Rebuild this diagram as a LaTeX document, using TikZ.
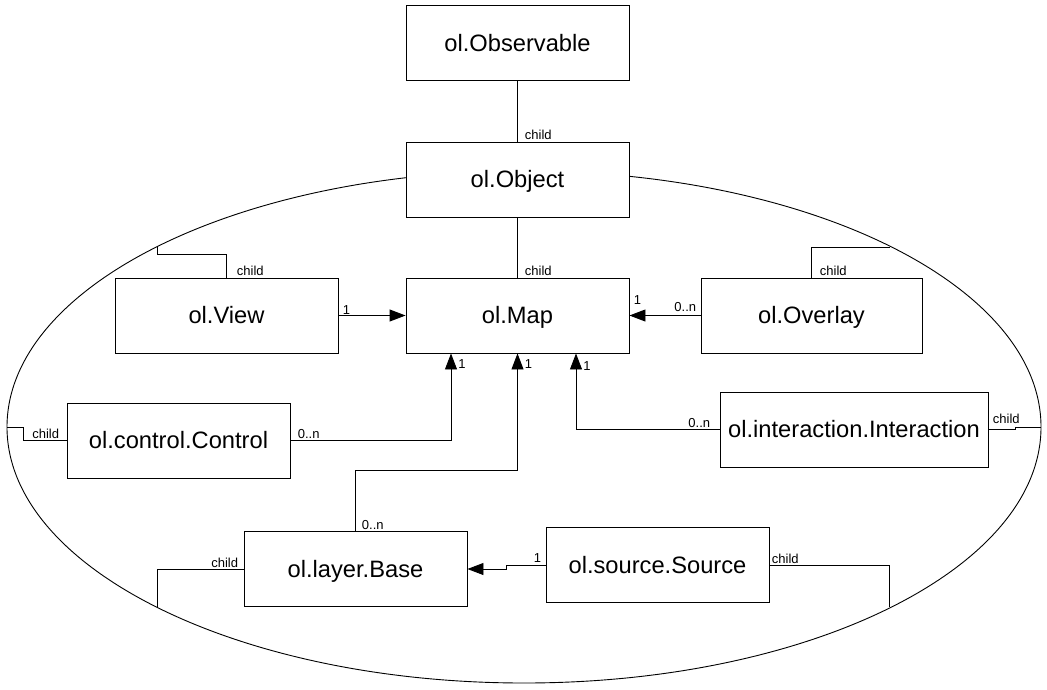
\documentclass[tikz,border=0pt]{standalone}
\usepackage{fontspec}
\setmainfont{Liberation Sans}
\usetikzlibrary{arrows.meta}
\begin{document}
\begin{tikzpicture}[x=1pt,y=-1pt,line width=0.9pt,
  cls/.style={draw, fill=white, minimum width=223pt, minimum height=75pt, inner sep=0pt, text height=17pt, text depth=0.6pt, font=\fontsize{23.7}{28}\selectfont},
  lbl/.style={inner sep=1pt, font=\fontsize{13}{15}\selectfont},
  assoc/.style={-{Triangle[length=16pt,width=12pt]}}]
  \useasboundingbox (0,0) rectangle (1047,689);

  \draw (524,427) ellipse [x radius=517pt, y radius=256pt];
  \coordinate (e1) at (157,247);
  \coordinate (e2) at (890,247);
  \coordinate (e3) at (7,427);
  \coordinate (e4) at (1041,427);
  \coordinate (e5) at (157,607);
  \coordinate (e6) at (889,607);

  \node[cls] (obs) at (517.5,43) {ol.Observable};
  \node[cls] (obj) at (517.5,179.5) {ol.Object};
  \node[cls] (map) at (517.5,315.5) {ol.Map};
  \node[cls] (view) at (226.5,315.5) {ol.View};
  \node[cls, minimum width=221pt] (overlay) at (811.5,315.5) {ol.Overlay};
  \node[cls] (control) at (178.5,440.5) {ol.control.Control};
  \node[cls, minimum width=268pt] (interaction) at (854,429.5) {ol.interaction.Interaction};
  \node[cls] (base) at (355.5,569) {ol.layer.Base};
  \node[cls] (source) at (657.5,565) {ol.source.Source};

  \draw (obs) -- (obj) node[lbl, pos=1, anchor=south west, xshift=6pt] {child};
  \draw (obj) -- (map) node[lbl, pos=1, anchor=south west, xshift=6pt] {child};

  \draw[assoc] (view) -- (map) node[lbl, pos=0, anchor=south west, xshift=3pt] {1};
  \draw[assoc] (overlay) -- (map) node[lbl, pos=0, anchor=south east, xshift=-3pt, yshift=2pt] {0..n}
    node[lbl, pos=1, anchor=south west, xshift=3pt, yshift=10pt] {1};
  \draw[assoc] (control.east) node[lbl, anchor=south west, xshift=6pt] {0..n}
    -| ([xshift=-66.5pt]map.south) node[lbl, anchor=north west, xshift=6pt, yshift=-5pt] {1};
  \draw[assoc] (base.north) node[lbl, anchor=south west, xshift=5pt] {0..n}
    -- ++(0,-61) -| (map.south) node[lbl, anchor=north west, xshift=6pt, yshift=-5pt] {1};
  \draw[assoc] (interaction.west) node[lbl, anchor=south east, xshift=-8pt] {0..n}
    -| ([xshift=58.5pt]map.south) node[lbl, anchor=north west, xshift=6pt, yshift=-7pt] {1};
  \draw[assoc] (source.west) node[lbl, anchor=south east, xshift=-3pt, yshift=1pt] {1}
    -- ++(-39,0) |- (base.east);

  % child links out to the ring
  \draw (view.north) node[lbl, anchor=south west, xshift=9pt] {child} -- ++(0,-23) -| (e1);
  \draw (overlay.north) node[lbl, anchor=south west, xshift=7pt] {child} |- (e2);
  \draw (control.west) node[lbl, anchor=south east, xshift=-6pt] {child} -- ++(-43,0) |- (e3);
  \draw (interaction.east) node[lbl, anchor=south west, xshift=3pt, yshift=4pt] {child} -- ++(27,0) |- (e4);
  \draw (base.west) node[lbl, anchor=south east, xshift=-4pt] {child} -| (e5);
  \draw (source.east) node[lbl, anchor=south west, xshift=1pt] {child} -| (e6);
\end{tikzpicture}
\end{document}
